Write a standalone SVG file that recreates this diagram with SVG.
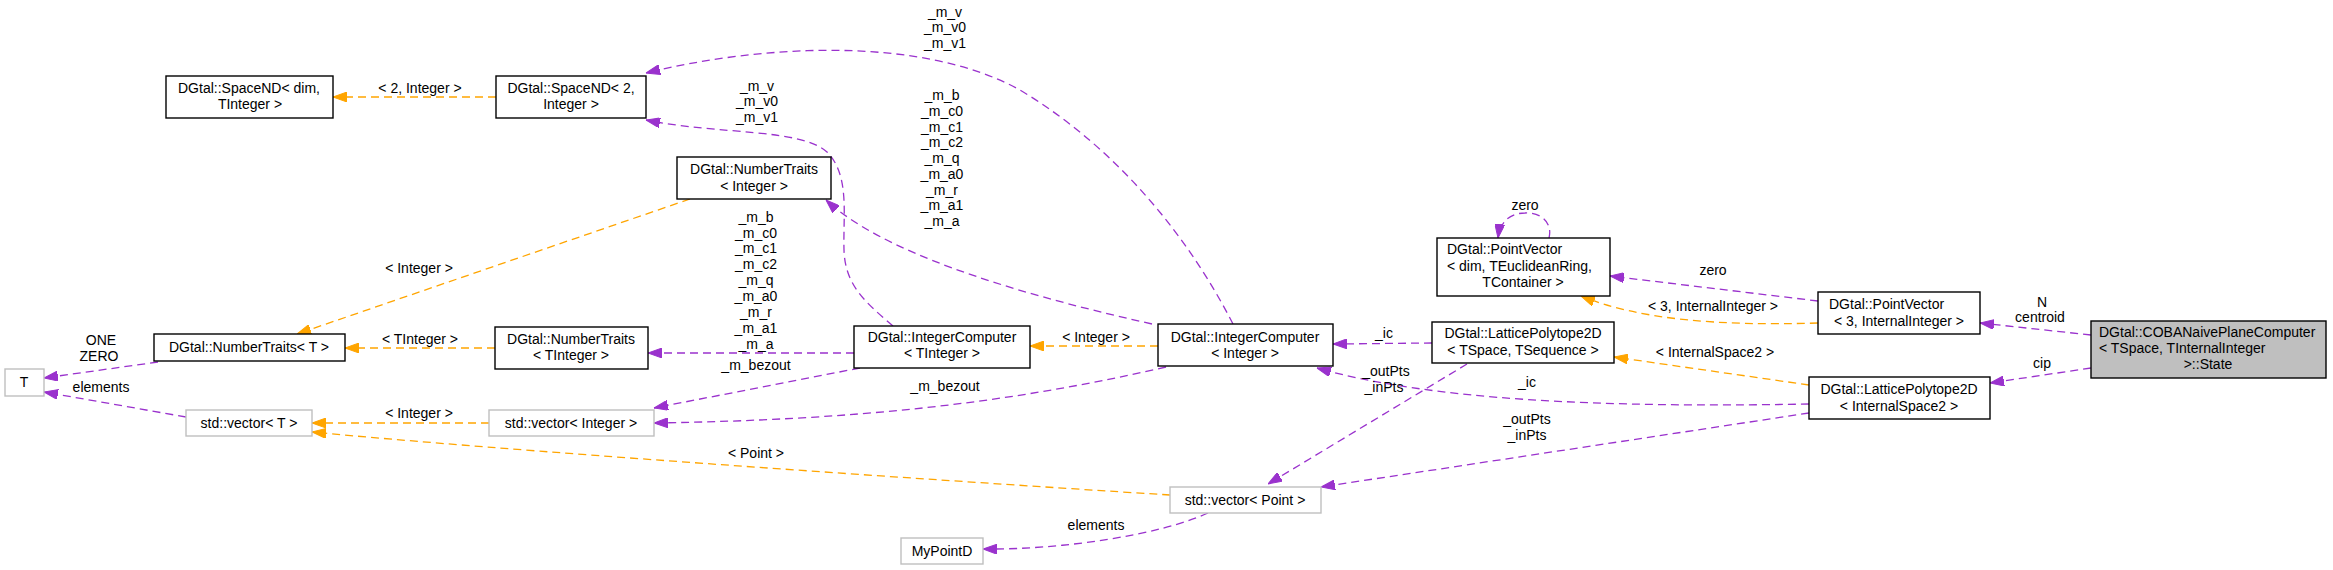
<svg xmlns="http://www.w3.org/2000/svg" width="2333" height="570" viewBox="0 0 2333 570">
<style>
text{font-family:"Liberation Sans",Arial,Helvetica,sans-serif;font-size:14px;fill:#000}
.n rect{fill:#fff;stroke:#000;stroke-width:1.4}
.g rect{fill:#fff;stroke:#bfbfbf;stroke-width:1.4}
.sel rect{fill:#bfbfbf;stroke:#000;stroke-width:1.4}
.c{text-anchor:middle}
.l{text-anchor:start}
#edges path{fill:none;stroke-width:1.3;stroke-dasharray:8,5}
#edges .p{stroke:#9a32cd;marker-end:url(#ap)}
#edges .o{stroke:#ffa500;marker-end:url(#ao)}
#edges text{text-anchor:middle}
</style>
<defs>
<marker id="ap" viewBox="0 0 14 10" refX="14" refY="5" markerWidth="14" markerHeight="10" markerUnits="userSpaceOnUse" orient="auto"><path d="M0,0 L14,5 L0,10 z" fill="#9a32cd" stroke="#9a32cd"/></marker>
<marker id="ao" viewBox="0 0 14 10" refX="14" refY="5" markerWidth="14" markerHeight="10" markerUnits="userSpaceOnUse" orient="auto"><path d="M0,0 L14,5 L0,10 z" fill="#ffa500" stroke="#ffa500"/></marker>
</defs>
<rect x="0" y="0" width="2333" height="570" fill="#fff"/>
<g id="edges">
<path class="p" d="M2091,335 L1980,323"/>
<text x="2042" y="307">N</text><text x="2040" y="322">centroid</text>
<path class="p" d="M2091,368 L1990,383"/>
<text x="2042" y="368">cip</text>
<path class="p" d="M1818,301 L1610,276"/>
<text x="1713" y="275">zero</text>
<path class="o" d="M1818,323 C1720,326 1640,320 1581,296"/>
<text x="1713" y="311">&lt; 3, InternalInteger &gt;</text>
<path class="p" d="M1549,238 C1553,222 1540,212 1525,213 C1510,213 1500,222 1498,238"/>
<text x="1525" y="210">zero</text>
<path class="p" d="M1432,343 L1333,344"/>
<text x="1384" y="338">_ic</text>
<path class="p" d="M1809,404 C1600,408 1430,400 1317,368"/>
<text x="1527" y="387">_ic</text>
<path class="o" d="M1809,385 L1614,357"/>
<text x="1715" y="357">&lt; InternalSpace2 &gt;</text>
<path class="p" d="M1467,364 L1268,484"/>
<text x="1386" y="376">_outPts</text><text x="1384" y="392">_inPts</text>
<path class="p" d="M1809,413 L1321,487"/>
<text x="1527" y="424">_outPts</text><text x="1527" y="440">_inPts</text>
<path class="p" d="M1208,513 C1160,535 1060,550 983,549"/>
<text x="1096" y="530">elements</text>
<path class="o" d="M1170,495 C900,478 500,450 312,432"/>
<text x="756" y="458">&lt; Point &gt;</text>
<path class="p" d="M1233,324 C1190,240 1120,150 1020,90 C920,35 760,45 646,73"/>
<text x="945" y="17">_m_v</text><text x="945" y="32">_m_v0</text><text x="945" y="48">_m_v1</text>
<path class="p" d="M1152,324 C1000,290 880,250 826,200"/>
<text x="942" y="100">_m_b</text><text x="942" y="116">_m_c0</text><text x="942" y="132">_m_c1</text><text x="942" y="147">_m_c2</text><text x="942" y="163">_m_q</text><text x="942" y="179">_m_a0</text><text x="942" y="195">_m_r</text><text x="942" y="210">_m_a1</text><text x="942" y="226">_m_a</text>
<path class="o" d="M1158,346 L1030,346"/>
<text x="1096" y="342">&lt; Integer &gt;</text>
<path class="p" d="M1166,367 C1000,405 850,420 654,423"/>
<text x="945" y="391">_m_bezout</text>
<path class="p" d="M893,326 C865,302 845,285 844,250 C843,215 850,175 827,152 C800,128 720,135 646,120"/>
<text x="757" y="91">_m_v</text><text x="757" y="106">_m_v0</text><text x="757" y="122">_m_v1</text>
<path class="p" d="M854,353 L648,353"/>
<text x="756" y="222">_m_b</text><text x="756" y="238">_m_c0</text><text x="756" y="253">_m_c1</text><text x="756" y="269">_m_c2</text><text x="756" y="285">_m_q</text><text x="756" y="301">_m_a0</text><text x="756" y="317">_m_r</text><text x="756" y="333">_m_a1</text><text x="756" y="349">_m_a</text>
<path class="p" d="M860,368 L654,408"/>
<text x="756" y="370">_m_bezout</text>
<path class="o" d="M690,199 L297,334"/>
<text x="419" y="273">&lt; Integer &gt;</text>
<path class="o" d="M495,348 L345,348"/>
<text x="420" y="344">&lt; TInteger &gt;</text>
<path class="o" d="M496,97 L333,97"/>
<text x="420" y="93">&lt; 2, Integer &gt;</text>
<path class="p" d="M158,362 L44,378"/>
<text x="101" y="345">ONE</text><text x="99" y="361">ZERO</text>
<path class="p" d="M186,417 L44,392"/>
<text x="101" y="392">elements</text>
<path class="o" d="M489,423 L312,423"/>
<text x="419" y="418">&lt; Integer &gt;</text>
</g>
<g id="n_coba" class="sel"><rect x="2091" y="321" width="235" height="57"/>
<text class="l" x="2099" y="337">DGtal::COBANaivePlaneComputer</text><text class="l" x="2099" y="353">&lt; TSpace, TInternalInteger</text><text class="c" x="2208" y="369">&gt;::State</text></g>
<g id="n_pv3" class="n"><rect x="1818" y="292" width="162" height="42"/>
<text class="l" x="1829" y="309">DGtal::PointVector</text><text class="c" x="1899" y="326">&lt; 3, InternalInteger &gt;</text></g>
<g id="n_pvdim" class="n"><rect x="1437" y="238" width="173" height="58"/>
<text class="l" x="1447" y="254">DGtal::PointVector</text><text class="l" x="1447" y="271">&lt; dim, TEuclideanRing,</text><text class="c" x="1523" y="287">TContainer &gt;</text></g>
<g id="n_lpts" class="n"><rect x="1432" y="322" width="182" height="41"/>
<text class="c" x="1523" y="338">DGtal::LatticePolytope2D</text><text class="c" x="1523" y="355">&lt; TSpace, TSequence &gt;</text></g>
<g id="n_lpis2" class="n"><rect x="1809" y="377" width="181" height="42"/>
<text class="c" x="1899" y="394">DGtal::LatticePolytope2D</text><text class="c" x="1899" y="411">&lt; InternalSpace2 &gt;</text></g>
<g id="n_icint" class="n"><rect x="1158" y="324" width="175" height="42"/>
<text class="c" x="1245" y="342">DGtal::IntegerComputer</text><text class="c" x="1245" y="358">&lt; Integer &gt;</text></g>
<g id="n_ictint" class="n"><rect x="854" y="326" width="176" height="42"/>
<text class="c" x="942" y="342">DGtal::IntegerComputer</text><text class="c" x="942" y="358">&lt; TInteger &gt;</text></g>
<g id="n_vecpt" class="g"><rect x="1170" y="487" width="151" height="26"/>
<text class="c" x="1245" y="505">std::vector&lt; Point &gt;</text></g>
<g id="n_mypd" class="g"><rect x="901" y="538" width="82" height="26"/>
<text class="c" x="942" y="556">MyPointD</text></g>
<g id="n_ntint" class="n"><rect x="677" y="157" width="154" height="42"/>
<text class="c" x="754" y="174">DGtal::NumberTraits</text><text class="c" x="754" y="191">&lt; Integer &gt;</text></g>
<g id="n_sp2" class="n"><rect x="496" y="76" width="150" height="42"/>
<text class="c" x="571" y="93">DGtal::SpaceND&lt; 2,</text><text class="c" x="571" y="109">Integer &gt;</text></g>
<g id="n_spdim" class="n"><rect x="166" y="76" width="167" height="42"/>
<text class="c" x="249" y="93">DGtal::SpaceND&lt; dim,</text><text class="c" x="250" y="109">TInteger &gt;</text></g>
<g id="n_nttint" class="n"><rect x="495" y="327" width="153" height="42"/>
<text class="c" x="571" y="344">DGtal::NumberTraits</text><text class="c" x="571" y="360">&lt; TInteger &gt;</text></g>
<g id="n_ntt" class="n"><rect x="154" y="334" width="191" height="27"/>
<text class="c" x="249" y="352">DGtal::NumberTraits&lt; T &gt;</text></g>
<g id="n_vecint" class="g"><rect x="489" y="410" width="165" height="26"/>
<text class="c" x="571" y="428">std::vector&lt; Integer &gt;</text></g>
<g id="n_vect" class="g"><rect x="186" y="410" width="126" height="26"/>
<text class="c" x="249" y="428">std::vector&lt; T &gt;</text></g>
<g id="n_T" class="g"><rect x="5" y="369" width="39" height="27"/>
<text class="c" x="24" y="387">T</text></g>
</svg>
